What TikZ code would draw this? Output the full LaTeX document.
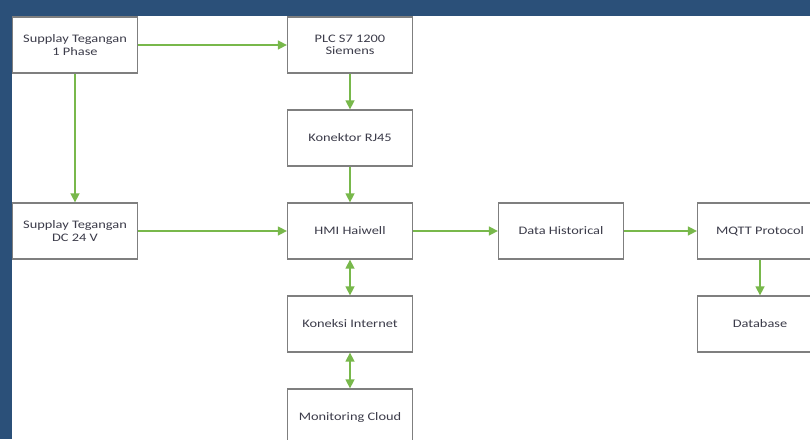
\documentclass[tikz,border=0pt]{standalone}
\usepackage{fontspec}
\setmainfont[FakeStretch=1.25]{Carlito}
\usetikzlibrary{arrows.meta,positioning}
\definecolor{latar}{HTML}{2B5079}
\definecolor{panah}{HTML}{78B84B}
\definecolor{garis}{HTML}{7F7F7F}
\definecolor{teks}{HTML}{3C3C4A}

\begin{document}
\begin{tikzpicture}[x=1pt,y=1pt,node distance=93pt,on grid,
   blok/.style={draw=garis,line width=1.3pt,fill=white,minimum width=125pt,
      minimum height=56pt,align=center,text=teks,
      font=\fontsize{11.5}{12.5}\selectfont},
   >={Triangle[length=9pt,width=9pt]}]
   \useasboundingbox (0,0) rectangle (810,-439);
   \fill[latar] (0,0) rectangle (810,-439);
   \fill[white] (12,-16) rectangle (810,-439);
   \node[blok] (sup1) at (75,-45) {Supplay Tegangan\\1 Phase};
   \node[blok] (plc) [right=275pt of sup1] {PLC S7 1200\\Siemens};
   \node[blok] (rj45) [below=of plc] {Konektor RJ45};
   \node[blok] (hmi) [below=of rj45] {HMI Haiwell};
   \node[blok] (supdc) [left=275pt of hmi] {Supplay Tegangan\\DC 24 V};
   \node[blok] (hist) [right=211pt of hmi] {Data Historical};
   \node[blok] (mqtt) [right=199pt of hist] {MQTT Protocol};
   \node[blok] (db) [below=of mqtt] {Database};
   \node[blok] (inet) [below=of hmi] {Koneksi Internet};
   \node[blok] (cloud) [below=of inet] {Monitoring Cloud};
    \path[->,draw=panah,fill=panah,line width=1.5pt]
    (sup1) edge (plc)
    (sup1) edge (supdc)
    (supdc) edge (hmi)
    (plc) edge (rj45)
    (rj45) edge (hmi)
    (hmi) edge (hist)
    (hist) edge (mqtt)
    (mqtt) edge (db)
    (hmi) edge[<->] (inet)
    (inet) edge[<->] (cloud);
\end{tikzpicture}
\end{document}
